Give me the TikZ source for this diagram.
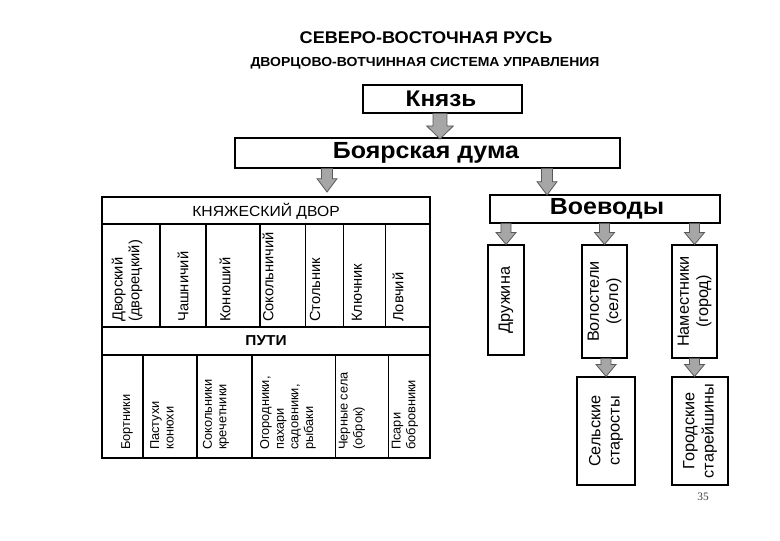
\documentclass[tikz,border=0pt]{standalone}
\usepackage{fontspec}
\setmainfont{Liberation Sans}[FakeStretch=1.07]
\newfontfamily\vf{Liberation Sans}
\newfontfamily\numf{Liberation Serif}
\usetikzlibrary{calc,fit}
\newcommand\barrow[5]{%
  \path[barrowst] let \p1=(#1), \p2=(#2) in
  (\x1-#3,\y1) -- (\x1-#3,\y2+#5) -- (\x1-#4,\y2+#5) -- (\x1,\y2) --
  (\x1+#4,\y2+#5) -- (\x1+#3,\y2+#5) -- (\x1+#3,\y1) -- cycle;}
\tikzset{
  barrowst/.style={fill=black!35, draw=black!65, line width=0.6pt, line join=miter},
  box/.style={draw=black, line width=0.8pt, inner sep=0pt, fill=white},
  vtl/.style={rotate=90, anchor=west, align=left, inner sep=0pt, font=\vf\fontsize{11}{12.5}\selectfont},
  vtlow/.style={rotate=90, anchor=west, align=left, inner sep=0pt, font=\vf\fontsize{9.6}{11}\selectfont},
  vtr/.style={rotate=90, align=center, inner sep=0pt, font=\vf\fontsize{12.2}{14.5}\selectfont},
  thk/.style={line width=1.4pt},
  med/.style={line width=1pt},
  thn/.style={line width=0.6pt},
}
\begin{document}
\begin{tikzpicture}[x=0.75pt, y=-0.75pt]
\useasboundingbox[fill=white] (0,0) rectangle (780,540);

% titles
\node[font=\bfseries\fontsize{12.7}{15}\selectfont] (title) at (426,38) {СЕВЕРО-ВОСТОЧНАЯ  РУСЬ};
\node[font=\bfseries\fontsize{9.8}{12}\selectfont] (subtitle) at (425,63) {ДВОРЦОВО-ВОТЧИННАЯ СИСТЕМА УПРАВЛЕНИЯ};

% main boxes
\node[box, fit={(363,85) (522,113)}] (knyaz) {};
\node[font=\bfseries\fontsize{17}{20}\selectfont] (knyazt) at (441,99) {Князь};
\node[box, fit={(235,138) (620,168)}] (duma) {};
\node[font=\bfseries\fontsize{17.5}{20}\selectfont] (dumat) at (426,153) {Боярская дума};

% left block (princely court)
\node[box, fit={(102,197) (430,458)}] (dvor) {};
\draw[thk] (102,224) -- (430,224);
\draw[med] (102,327) -- (430,327);
\draw[med] (102,355) -- (430,355);
\foreach \xx in {160,206} \draw[thk] (\xx,224) -- (\xx,327);
\draw[med] (260,224) -- (260,327);
\foreach \xx in {305,343,385} \draw[thn] (\xx,224) -- (\xx,327);
\foreach \xx in {143,197} \draw[thk] (\xx,355) -- (\xx,458);
\draw[med] (252,355) -- (252,458);
\foreach \xx in {335,388} \draw[thn] (\xx,355) -- (\xx,458);

\node[font=\fontsize{11}{12}\selectfont] (dvorh) at (266,211) {КНЯЖЕСКИЙ ДВОР};
\node[font=\bfseries\fontsize{10.8}{12}\selectfont] (puti) at (266,341) {ПУТИ};

\node[vtl] (u1) at (127,322) {Дворский\\(дворецкий)};
\node[vtl] (u2) at (183,322) {Чашничий};
\node[vtl] (u3) at (225,322) {Конюший};
\node[vtl] (u4) at (268,322) {Сокольничий};
\node[vtl] (u5) at (315,322) {Стольник};
\node[vtl] (u6) at (357,322) {Ключник};
\node[vtl] (u7) at (398,322) {Ловчий};

\node[vtlow] (l1) at (127,450) {Бортники};
\node[vtlow] (l2) at (162,450) {Пастухи\\конюхи};
\node[vtlow] (l3) at (216,450) {Сокольники\\кречетники};
\node[vtlow] (l4) at (288,450) {Огородники,\\пахари\\садовники,\\рыбаки};
\node[vtlow] (l5) at (352,450) {Черные села\\(оброк)};
\node[vtlow] (l6) at (405,450) {Псари\\бобровники};

% right block
\node[box, fit={(490,195) (720,223)}] (voev) {};
\node[font=\bfseries\fontsize{17.5}{20}\selectfont] (voevt) at (607,209) {Воеводы};
\node[box, fit={(488,245) (524,355)}] (druzh) {};
\node[box, fit={(582,245) (627,358)}] (vol) {};
\node[box, fit={(672,245) (717,358)}] (nam) {};
\node[box, fit={(577,377) (635,485)}] (sel) {};
\node[box, fit={(672,377) (728,485)}] (gor) {};
\node[vtr] (druzht) at (druzh.center) {Дружина};
\node[vtr] (volt) at (vol.center) {Волостели\\(село)};
\node[vtr] (namt) at (nam.center) {Наместники\\(город)};
\node[vtr] (selt) at (sel.center) {Сельские\\старосты};
\node[vtr] (gort) at (gor.center) {Городские\\старейшины};

% block arrows
\coordinate (ka) at (440,139);
\coordinate (dl) at (327,192);
\coordinate (dr) at (547,195);
\barrow{ka |- knyaz.south}{ka}{5.2pt}{10pt}{9.8pt}
\barrow{dl |- duma.south}{dl}{4.1pt}{7.5pt}{10pt}
\barrow{dr |- duma.south}{dr}{4.1pt}{7.5pt}{10pt}
\barrow{druzh.north |- voev.south}{druzh.north}{3.8pt}{7.5pt}{9pt}
\barrow{vol.north |- voev.south}{vol.north}{3.8pt}{7.5pt}{9pt}
\barrow{nam.north |- voev.south}{nam.north}{3.8pt}{7.5pt}{9pt}
\barrow{sel.north |- vol.south}{sel.north}{3.8pt}{7.5pt}{9pt}
\barrow{nam.south}{nam.south |- gor.north}{3.8pt}{7.5pt}{9pt}

\node[font=\numf\fontsize{8.5}{10}\selectfont, text=black!75] (page) at (703,497) {35};
\end{tikzpicture}
\end{document}
